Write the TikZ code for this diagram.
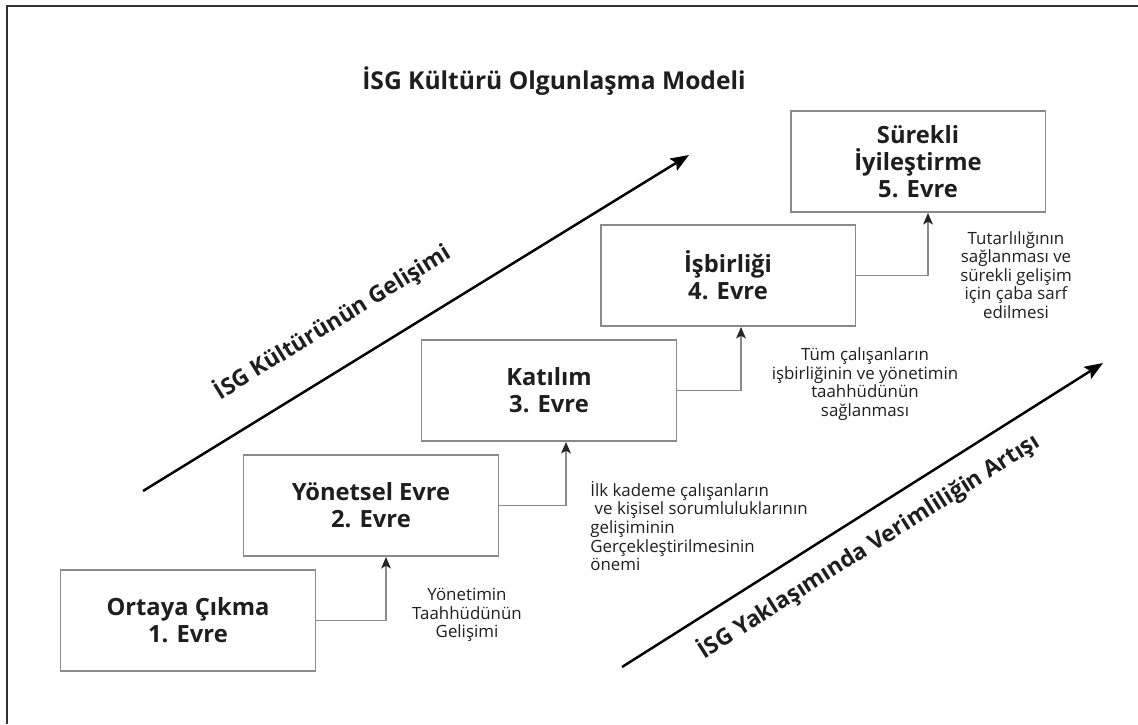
\documentclass[tikz,border=0pt]{standalone}
\usepackage{fontspec}
\setmainfont{Open Sans}
\usetikzlibrary{positioning}
\usetikzlibrary{arrows.meta}

\definecolor{boxgray}{HTML}{8A8A8A}
\definecolor{textdark}{HTML}{1E1E1E}

\tikzset{
  stage/.style={draw=boxgray, line width=1.1pt, minimum width=5.1cm, minimum height=2.02cm,
    inner sep=0pt, align=center, text=textdark, font=\bfseries\fontsize{13.5}{15.5}\selectfont},
  lowtext/.style={execute at begin node={\rule{0pt}{15pt}}},
  note/.style={align=center, inner sep=0pt, text=textdark, font=\fontsize{9.6}{10.6}\selectfont},
  conn/.style={draw=boxgray, line width=1.1pt, -{Stealth[length=6.5pt,width=5.5pt,inset=1.5pt,color=black!85]}},
  trend/.style={line width=1.4pt, -{Stealth[length=10.5pt,width=8pt,inset=2pt]}},
  trendlabel/.style={inner sep=0pt, text=textdark, font=\bfseries\fontsize{13}{15}\selectfont}
}

\begin{document}
\begin{tikzpicture}[x=0.02cm, y=-0.02cm]
\useasboundingbox (0,0) rectangle (1138,724);
\draw[line width=0.9pt, black!80] (7,724) -- (7,6) -- (1138,6);

\node[font=\bfseries\fontsize{14}{16}\selectfont, text=textdark] (title) at (554,81) {İSG Kültürü Olgunlaşma Modeli};

\node[stage, lowtext] (evre1) at (188,620.5) {Ortaya Çıkma\\1. Evre};
\node[stage, lowtext] (evre2) at (371,505.5) {Yönetsel Evre\\2. Evre};
\node[stage, lowtext] (evre3) at (549,390.5) {Katılım\\3. Evre};
\node[stage, lowtext] (evre4) at (728,275.5) {İşbirliği\\4. Evre};
\node[stage] (evre5) at (918,161.5) {Sürekli\\İyileştirme\\5. Evre};

\draw[conn] (evre1.east) -| ([xshift=0.3cm]evre2.south);
\draw[conn] (evre2.east) -| ([xshift=0.34cm]evre3.south);
\draw[conn] (evre3.east) -| ([xshift=0.26cm]evre4.south);
\draw[conn] (evre4.east) -| ([xshift=0.2cm]evre5.south);

\node[note] (not1) at (467,615) {Yönetimin\\Taahhüdünün\\Gelişimi};
\node[note, align=left, anchor=west] (not2) at (590,526) {İlk kademe çalışanların\\\ ve kişisel sorumluluklarının\\gelişiminin\\Gerçekleştirilmesinin\\önemi};
\node[note] (not3) at (865,384) {Tüm çalışanların\\işbirliğinin ve yönetimin\\taahhüdünün\\sağlanması};
\node[note] (not4) at (1016,275) {Tutarlılığının\\sağlanması ve\\sürekli gelişim\\için çaba sarf\\edilmesi};

\coordinate (gelisimA) at (143,491);
\coordinate (gelisimB) at (689,155);
\draw[trend] (gelisimA) -- (gelisimB) node[trendlabel, pos=0.39, sloped, above=0.6cm] (gelisimLbl) {İSG Kültürünün Gelişimi};

\coordinate (verimA) at (622,667);
\coordinate (verimB) at (1103,363);
\draw[trend] (verimA) -- (verimB) node[trendlabel, pos=0.48, sloped, below=0.3cm] (verimLbl) {İSG Yaklaşımında Verimliliğin Artışı};
\end{tikzpicture}
\end{document}
